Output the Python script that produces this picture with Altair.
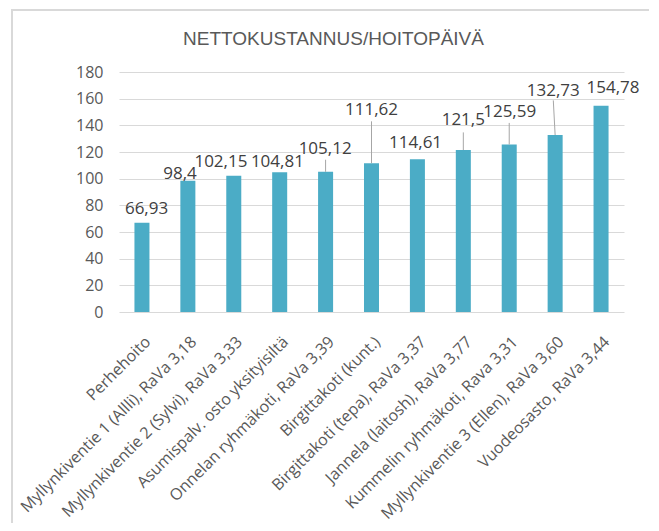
import altair as alt
import pandas as pd

categories = [
    "Perhehoito",
    "Myllynkiventie 1 (Allli), RaVa 3,18",
    "Myllynkiventie 2 (Sylvi), RaVa 3,33",
    "Asumispalv. osto yksityisiltä",
    "Onnelan ryhmäkoti, RaVa 3,39",
    "Birgittakoti (kunt.)",
    "Birgittakoti (tepa), RaVa 3,37",
    "Jannela (laitosh), RaVa 3,77",
    "Kummelin ryhmäkoti, Rava 3,31",
    "Myllynkiventie 3 (Ellen), RaVa 3,60",
    "Vuodeosasto, RaVa 3,44",
]
values = [66.93, 98.4, 102.15, 104.81, 105.12, 111.62, 114.61, 121.5, 125.59, 132.73, 154.78]

# where each data label sits: category-index units (x) and value units (y)
label_x = [0.10, 0.83, 1.72, 2.95, 3.99, 5.0, 5.96, 7.0, 8.01, 8.96, 10.26]
label_y = [73.5, 99.8, 108.8, 108.8, 118.7, 148.0, 123.0, 140.0, 146.3, 161.7, 164.3]

# leader lines (label -> bar top), None where no leader line
leader_x_top = [None, None, None, None, 4.0, 5.0, None, 7.0, 8.0, 8.96, None]
leader_x_bot = [None, None, None, None, 4.0, 5.0, None, 7.0, 8.0, 9.0, None]
leader_y_top = [None, None, None, None, 114.2, 143.0, None, 134.7, 141.8, 158.7, None]

y_ticks = [0, 20, 40, 60, 80, 100, 120, 140, 160, 180]

df = pd.DataFrame({
    "cat": categories,
    "value": values,
    "lx": label_x,
    "ly": label_y,
    "label": [str(v).replace(".", ",") for v in values],
})

ldf = pd.DataFrame({
    "x1": leader_x_top,
    "x2": leader_x_bot,
    "ytop": leader_y_top,
    "value": values,
}).dropna()

frame_df = pd.DataFrame({"k": [0]})

TEXT_GRAY = "#595959"
yscale = alt.Scale(domain=[0, 180], nice=False, zero=True)
xq = alt.Scale(domain=[-0.5, 10.5], nice=False, zero=False)

yaxis = alt.Axis(
    title=None,
    values=y_ticks,
    grid=True,
    gridColor="#d9d9d9",
    gridWidth=1,
    domain=False,
    ticks=False,
    labelOverlap=False,
    labelPadding=16,
    labelFont="Open Sans",
    labelFontSize=16,
    labelColor=TEXT_GRAY,
)

bars = alt.Chart(df).mark_bar(color="#4bacc6").encode(
    x=alt.X(
        "cat:N",
        sort=categories,
        scale=alt.Scale(paddingInner=0.673, paddingOuter=0.3365),
        axis=alt.Axis(
            title=None,
            labelAngle=-45,
            labelAlign="right",
            labelBaseline="middle",
            labelPadding=27,
            labelOffset=6,
            labelLimit=400,
            labelOverlap=False,
            labelFont="Open Sans",
            labelFontSize=16,
            labelColor=TEXT_GRAY,
            domain=False,
            ticks=False,
            grid=False,
        ),
    ),
    y=alt.Y("value:Q", scale=yscale, axis=yaxis),
)

leaders = alt.Chart(ldf).mark_rule(color="#a6a6a6", strokeWidth=1).encode(
    x=alt.X("x1:Q", scale=xq, axis=None),
    x2="x2:Q",
    y=alt.Y("ytop:Q", scale=yscale, axis=yaxis),
    y2="value:Q",
)

labels = alt.Chart(df).mark_text(
    font="Open Sans", fontSize=17, color="#404040", align="center", baseline="alphabetic"
).encode(
    x=alt.X("lx:Q", scale=xq, axis=None),
    y=alt.Y("ly:Q", scale=yscale, axis=yaxis),
    text="label:N",
)

frame = alt.Chart(frame_df).mark_rect(
    fill=None, fillOpacity=0, stroke="#d9d9d9", strokeWidth=2
).encode(
    x=alt.value(-107),
    x2=alt.value(535),
    y=alt.value(-62),
    y2=alt.value(470),
)

chart = (
    alt.layer(frame, bars, leaders, labels)
    .resolve_scale(x="independent")
    .properties(
        width=505,
        height=240,
        title=alt.TitleParams(
            text="NETTOKUSTANNUS/HOITOPÄIVÄ",
            anchor="middle",
            frame="group",
            font="Liberation Sans",
            fontSize=19,
            fontWeight="normal",
            color=TEXT_GRAY,
            baseline="alphabetic",
            offset=0,
            dx=-38,
            dy=55,
        ),
        autosize=alt.AutoSizeParams(type="none"),
        padding={"left": 111, "top": 64, "right": 25, "bottom": 211},
    )
    .configure_view(stroke=None)
)

chart.save("out.html", embed_options={"renderer": "svg", "actions": False})
